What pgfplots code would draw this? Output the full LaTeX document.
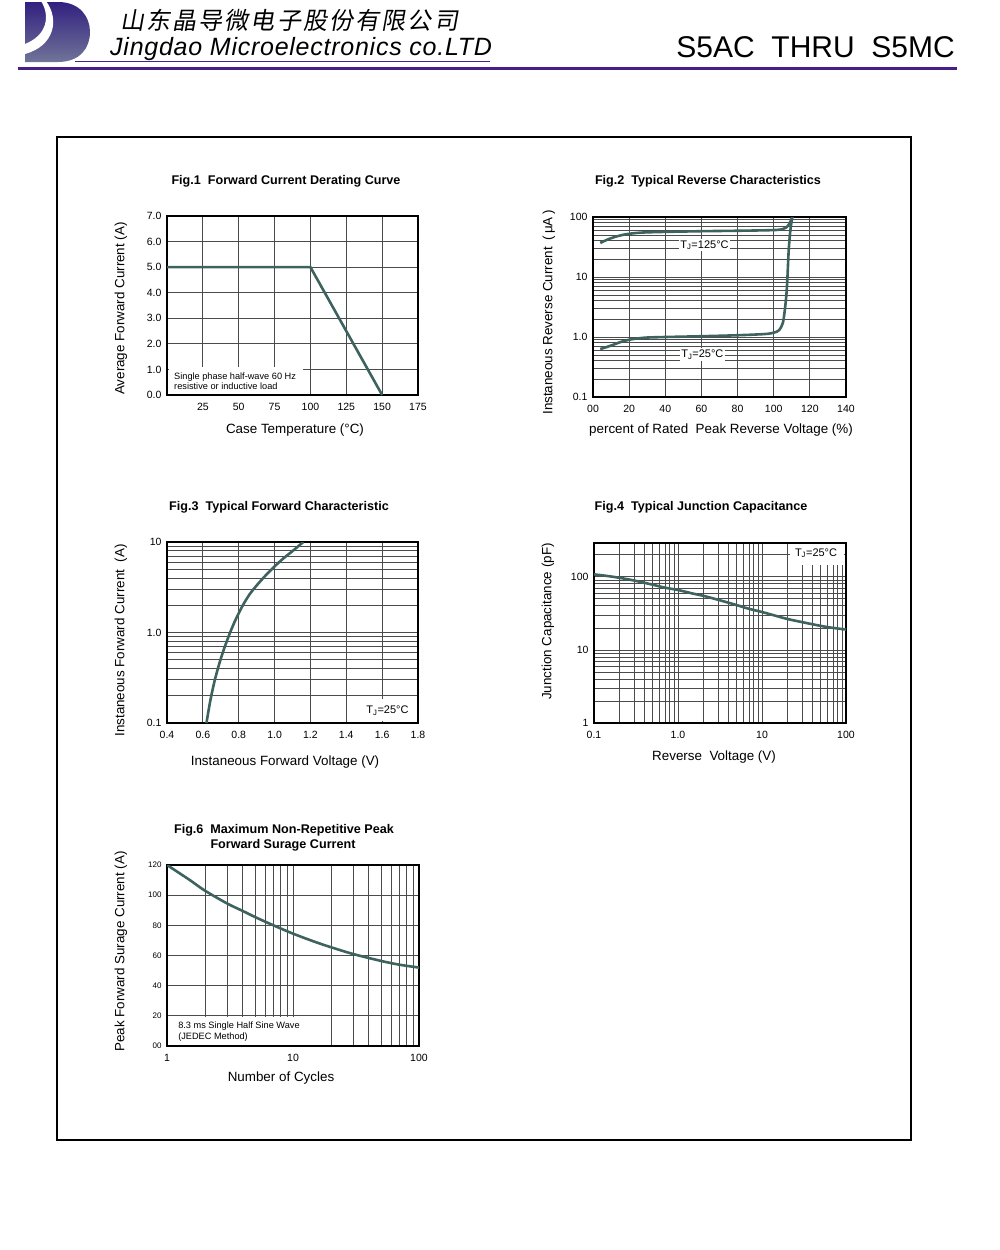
\documentclass[border=0pt]{standalone}
\usepackage{pgfplots}
\pgfplotsset{compat=1.18}
\usepackage{fontspec}
\setmainfont{Liberation Sans}
\newfontfamily\cjk{Noto Sans CJK SC}[FakeSlant=0.18,LetterSpace=9]
\newfontfamily\jd{Liberation Sans}[LetterSpace=3]
\definecolor{curve}{RGB}{62,98,94}
\definecolor{hdr}{RGB}{72,30,138}
\definecolor{logoA}{RGB}{50,32,128}
\definecolor{logoB}{RGB}{112,116,152}
\definecolor{gridc}{RGB}{75,75,75}
\newcommand\ttl{\fontsize{12.6}{14}\selectfont\bfseries}
\newcommand\lbl{\fontsize{13.4}{15}\selectfont}
\newcommand\ann{\fontsize{9.2}{10.4}\selectfont}
\newcommand\tj{\fontsize{11}{12}\selectfont}
\pgfplotsset{
  ds/.style={
    scale only axis, anchor=south west,
    axis line style={line width=1.6pt, black},
    grid style={line width=0.8pt, gridc},
    major grid style={line width=0.8pt, gridc},
    minor grid style={line width=0.8pt, gridc},
    major tick length=0pt, minor tick length=0pt,
    /pgf/number format/assume math mode=true,
    ticklabel style={font=\fontsize{10.5}{12}\selectfont},
    xticklabel style={yshift=-5pt},
    yticklabel style={xshift=-2pt},
  },
  crv/.style={curve, line width=2.6pt, no markers},
}
\begin{document}
\begin{tikzpicture}[x=1pt,y=1pt]
\useasboundingbox (0,0) rectangle (1000,-1250);
% ---------- header ----------
\shade[top color=logoA, bottom color=logoB]
  (25,-2) -- (58,-2) .. controls (80,-2) and (90,-17) .. (90,-32)
  .. controls (90,-48) and (80,-62) .. (58,-62) -- (25,-62) -- cycle;
\fill[white] (41,-1) .. controls (50,-15) and (48,-35) .. (25,-44) -- (25,-54)
  .. controls (54,-46) and (60,-20) .. (46,-1) -- cycle;
\node[anchor=west, inner sep=0] at (120,-20) {\cjk\fontsize{24}{26}\selectfont 山东晶导微电子股份有限公司};
\node[anchor=base west, inner sep=0] at (110,-55) {\jd\itshape\fontsize{25}{27}\selectfont Jingdao Microelectronics co.LTD};
\draw[hdr, line width=1pt] (75,-61.5) -- (490,-61.5);
\draw[hdr, line width=3pt] (18,-68) -- (957,-68);
\node[anchor=base east, inner sep=0] at (955,-57) {\fontsize{30}{32}\selectfont S5AC\ \ THRU\ \ S5MC};
\draw[line width=1.8pt] (57,-137) rectangle (911,-1140);
% ---------- titles and labels ----------
\node[font=\ttl] at (286,-181) {Fig.1\ \ Forward Current Derating Curve};
\node[font=\ttl] at (708,-181) {Fig.2\ \ Typical Reverse Characteristics};
\node[font=\ttl] at (279,-507) {Fig.3\ \ Typical Forward Characteristic};
\node[font=\ttl] at (701,-507) {Fig.4\ \ Typical Junction Capacitance};
\node[font=\ttl] at (284,-830) {Fig.6\ \ Maximum Non-Repetitive Peak};
\node[font=\ttl] at (283,-845) {Forward Surage Current};
\node[font=\lbl, rotate=90] at (121,-308.5) {Average Forward Current (A)};
\node[font=\lbl] at (295,-430) {Case Temperature (°C)};
\node[font=\lbl, rotate=90] at (549,-312.5) {Instaneous Reverse Current\enspace(\,μA\,)};
\node[font=\lbl] at (721,-430) {percent of Rated\ \ Peak Reverse Voltage (\%)};
\node[font=\lbl, rotate=90] at (121,-640.5) {Instaneous Forward Current\ \ (A)};
\node[font=\lbl] at (285,-762) {Instaneous Forward Voltage (V)};
\node[font=\lbl, rotate=90] at (548,-621.5) {Junction Capacitance (pF)};
\node[font=\lbl] at (714,-757) {Reverse\ \ Voltage (V)};
\node[font=\lbl, rotate=90] at (121,-951.5) {Peak Forward Surage Current (A)};
\node[font=\lbl] at (281,-1078) {Number of Cycles};
% ---------- Fig.1 ----------
\begin{axis}[ds, at={(167pt,-395pt)}, width=251pt, height=179pt,
  xmin=0, xmax=175, ymin=0, ymax=7,
  xtick={25,50,75,100,125,150,175},
  ytick={0,1,2,3,4,5,6,7},
  yticklabels={0.0,1.0,2.0,3.0,4.0,5.0,6.0,7.0},
  xmajorgrids, ymajorgrids]
\addplot[crv] coordinates {(0,5) (100,5) (150,0)};
\fill[white] (rel axis cs:0.006,0.008) rectangle (rel axis cs:0.542,0.155);
\node[anchor=west, align=left, font=\ann, inner sep=0] at (rel axis cs:0.028,0.078)
  {Single phase half-wave 60 Hz\\resistive or inductive load};
\end{axis}
% ---------- Fig.2 ----------
\begin{axis}[ds, at={(593pt,-397pt)}, width=253pt, height=180pt,
  xmin=0, xmax=140, ymode=log, ymin=0.1, ymax=100,
  xtick={0,20,40,60,80,100,120,140},
  xticklabels={00,20,40,60,80,100,120,140},
  ytick={0.1,1,10,100}, yticklabels={0.1,1.0,10,100},
  minor ytick={0.2,0.3,0.4,0.5,0.6,0.7,0.8,0.9,2,3,4,5,6,7,8,9,20,30,40,50,60,70,80,90},
  xmajorgrids, ymajorgrids, yminorgrids]
\addplot[crv, smooth] coordinates {(4,37) (8,42) (12,46.5) (16,50) (20,52.5) (25,54.5) (30,55.5) (40,56.5) (60,58) (80,59) (95,60) (102,61) (105,63) (107,67) (108.5,76) (109.5,88) (110.3,100)};
\addplot[crv, smooth] coordinates {(4,0.63) (10,0.72) (15,0.82) (20,0.9) (25,0.95) (30,0.98) (40,1.0) (60,1.03) (80,1.07) (95,1.12) (100,1.18) (103,1.3) (105,1.7) (106,2.6) (107,5) (107.6,10) (108.3,28) (109.2,60) (110.3,100)};
\node[fill=white, inner sep=1.5pt, font=\tj] at (axis cs:61.7,34) {T\textsubscript{J}=125°C};
\node[fill=white, inner sep=1.5pt, font=\tj] at (axis cs:60.5,0.51) {T\textsubscript{J}=25°C};
\end{axis}
% ---------- Fig.3 ----------
\begin{axis}[ds, at={(167pt,-723pt)}, width=251pt, height=181pt,
  xmin=0.4, xmax=1.8, ymode=log, ymin=0.1, ymax=10,
  xtick={0.4,0.6,0.8,1.0,1.2,1.4,1.6,1.8},
  xticklabels={0.4,0.6,0.8,1.0,1.2,1.4,1.6,1.8},
  ytick={0.1,1,10}, yticklabels={0.1,1.0,10},
  minor ytick={0.2,0.3,0.4,0.5,0.6,0.7,0.8,0.9,2,3,4,5,6,7,8,9},
  xmajorgrids, ymajorgrids, yminorgrids]
\addplot[crv, smooth] coordinates {(0.62,0.1) (0.64,0.17) (0.66,0.263) (0.68,0.376) (0.70,0.513) (0.72,0.676) (0.75,0.977) (0.78,1.35) (0.82,1.95) (0.86,2.63) (0.90,3.31) (0.95,4.27) (1.0,5.37) (1.05,6.61) (1.10,7.94) (1.16,10)};
\fill[white] (rel axis cs:0.76,0.01) rectangle (rel axis cs:0.99,0.13);
\node[font=\tj] at (axis cs:1.63,0.137) {T\textsubscript{J}=25°C};
\end{axis}
% ---------- Fig.4 ----------
\begin{axis}[ds, at={(594pt,-723pt)}, width=252pt, height=180pt,
  xmode=log, ymode=log, xmin=0.1, xmax=100, ymin=1, ymax=290,
  xtick={0.1,1,10,100}, xticklabels={0.1,1.0,10,100},
  ytick={1,10,100}, yticklabels={1,10,100},
  minor xtick={0.2,0.3,0.4,0.5,0.6,0.7,0.8,0.9,2,3,4,5,6,7,8,9,20,30,40,50,60,70,80,90},
  minor ytick={2,3,4,5,6,7,8,9,20,30,40,50,60,70,80,90,200},
  xmajorgrids, ymajorgrids, xminorgrids, yminorgrids]
\addplot[crv, smooth] coordinates {(0.1,108) (0.15,102) (0.2,97) (0.3,89) (0.5,78) (0.7,71) (1,66) (1.5,59) (2,55) (3,48.5) (5,41) (7,36.5) (10,33) (15,29) (20,26.5) (30,24) (50,21.3) (70,20) (100,19)};
\fill[white] (rel axis cs:0.778,0.877) rectangle (rel axis cs:0.993,0.992);
\node[font=\tj] at (axis cs:44,210) {T\textsubscript{J}=25°C};
\end{axis}
% ---------- Fig.6 ----------
\begin{axis}[ds, at={(167pt,-1046pt)}, width=252pt, height=181pt,
  xmode=log, xmin=1, xmax=100, ymin=0, ymax=120,
  xtick={1,10,100}, xticklabels={1,10,100},
  ytick={0,20,40,60,80,100,120}, yticklabels={00,20,40,60,80,100,120},
  yticklabel style={font=\fontsize{8}{9}\selectfont},
  minor xtick={2,3,4,5,6,7,8,9,20,30,40,50,60,70,80,90},
  xmajorgrids, xminorgrids, ymajorgrids]
\addplot[crv, smooth] coordinates {(1,120) (1.5,110.3) (2,103) (3,94.5) (4,89.5) (5,85.5) (7,80) (10,74.5) (15,69) (20,65.5) (30,61) (50,56.4) (70,53.9) (100,52)};
\fill[white] (rel axis cs:0.006,0.008) rectangle (rel axis cs:0.548,0.158);
\node[anchor=west, align=left, font=\ann, inner sep=0] at (rel axis cs:0.044,0.08)
  {8.3 ms Single Half Sine Wave\\(JEDEC Method)};
\end{axis}
\end{tikzpicture}
\end{document}
